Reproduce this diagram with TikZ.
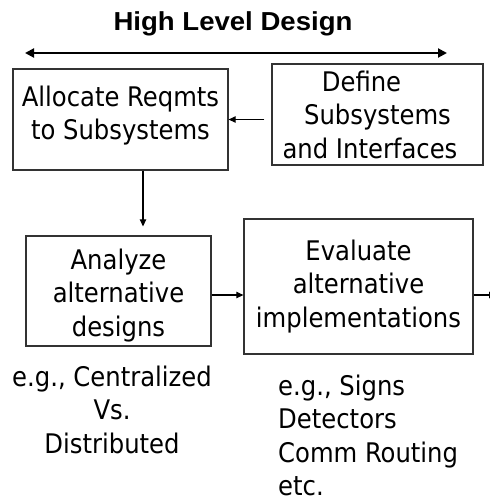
\documentclass[tikz,border=0pt]{standalone}
\usepackage{fontspec}
\setmainfont{DejaVu Sans Condensed}
\newfontfamily\titlefont[FakeStretch=1.06]{Liberation Sans}
\usetikzlibrary{arrows.meta}

% invisible struts that move a text block inside its box
\newcommand\lowstrut[1]{\rule[-#1]{0pt}{#1}}
\newcommand\highstrut[1]{\rule{0pt}{#1}}

\begin{document}
\begin{tikzpicture}[x=1pt,y=-1pt,
  body/.style={font=\fontsize{27}{33.5}\selectfont, text=black},
  stage/.style={body, draw=black!80, line width=1.3pt, align=center,
    inner sep=0pt},
  note/.style={body, inner sep=0pt},
  flow/.style={draw=black, line width=1.2pt,
    -{Triangle[length=7pt,width=6.5pt]}},
  span/.style={draw=black, line width=2pt,
    {Triangle[length=9pt,width=9pt]}-{Triangle[length=9pt,width=9pt]}}]

  \useasboundingbox (0,0) rectangle (490,501);
  \clip (0,0) rectangle (490,501);

  % heading and its span arrow
  \node[anchor=base, inner sep=0pt, font=\titlefont\bfseries\fontsize{26}{30}\selectfont]
    (title) at (233,30) {High Level Design};
  \coordinate (spanL) at (25,53);
  \coordinate (spanR) at (447,53);
  \draw[span] (spanL) -- (spanR);

  % process boxes
  \node[stage, minimum width=215pt, minimum height=101pt] (alloc) at (120.5,119.5)
    {Allocate Reqmts\\to Subsystems\lowstrut{14pt}};
  \node[stage, minimum width=211pt, minimum height=101pt] (define) at (377.5,114.5)
    {Define\hspace*{32pt}\\Subsystems\hspace*{21pt}\\and Interfaces\hspace*{15pt}};
  \node[stage, minimum width=185pt, minimum height=110pt] (analyze) at (118.5,291)
    {\highstrut{29.5pt}Analyze\\alternative\\designs};
  \node[stage, minimum width=229pt, minimum height=135pt] (evaluate) at (358.5,286.5)
    {Evaluate\\alternative\\implementations};

  % connectors
  \draw[flow, shorten <=7pt] (define.west |- alloc.east) -- (alloc.east);
  \draw[flow, shorten >=9pt] ([xshift=22.5pt]alloc.south)
    -- ([xshift=22.5pt]alloc.south |- analyze.north);
  \draw[flow] ([yshift=-4pt]analyze.east) -- ([yshift=-4pt]analyze.east -| evaluate.west);
  \coordinate (onward) at (496,295);
  \draw[flow] (evaluate.east |- onward) -- (onward);

  % examples under the boxes
  \node[note, align=center, anchor=north] (egLeft) at (112,365.5)
    {e.g., Centralized\\Vs.\\Distributed};
  \node[note, align=left, anchor=north west] (egRight) at (278,374.5)
    {e.g., Signs\\Detectors\\Comm Routing\\etc.};
\end{tikzpicture}
\end{document}
